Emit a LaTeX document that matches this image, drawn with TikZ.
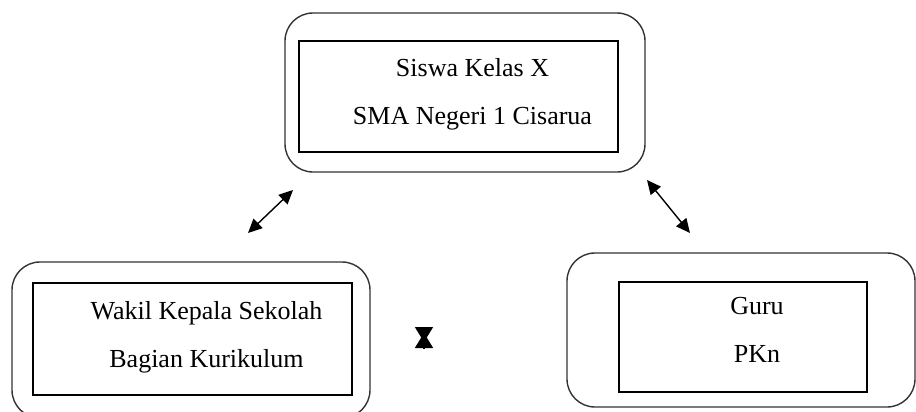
\documentclass[tikz,border=0pt]{standalone}
\usepackage{fontspec}
\setmainfont{Liberation Serif}
\usetikzlibrary{arrows.meta}
\begin{document}
\begin{tikzpicture}[x=0.5pt,y=-0.5pt,
  outerbox/.style={draw=black!80,line width=0.7pt,rounded corners=14pt,inner sep=0pt,outer sep=0pt},
  innerbox/.style={draw,line width=0.7pt,inner sep=0pt,outer sep=0pt},
  boxtext/.style={align=center,inner sep=0pt,font=\fontsize{13}{24}\selectfont},
  link/.style={{Triangle[length=7pt,width=6.5pt]}-{Triangle[length=7pt,width=6.5pt]},line width=0.7pt},
  half/.style={-{Triangle[length=7.5pt,width=9pt]},line width=0.8pt}]
\useasboundingbox (0,0) rectangle (916,412);
\node[outerbox,minimum width=180pt,minimum height=79.5pt] (siswa) at (465,92.5) {};
\node[innerbox,minimum width=159.5pt,minimum height=55.5pt] (siswa-in) at (458.5,96.5) {};
\node[boxtext] (siswa-txt) at (472.5,94.3) {Siswa Kelas X\\SMA Negeri 1 Cisarua};
\node[outerbox,minimum width=179pt,minimum height=78pt] (wakasek) at (191,340) {};
\node[innerbox,minimum width=159.5pt,minimum height=56pt] (wakasek-in) at (192.5,339) {};
\node[boxtext] (wakasek-txt) at (206.5,336.8) {Wakil Kepala Sekolah\\Bagian Kurikulum};
\node[outerbox,minimum width=174pt,minimum height=77pt] (guru) at (741,330) {};
\node[innerbox,minimum width=124pt,minimum height=55pt] (guru-in) at (743,337) {};
\node[boxtext] (guru-txt) at (757,330) {Guru\\PKn};
\coordinate (l1) at (293,190);
\coordinate (l2) at (248,233);
\coordinate (r1) at (647,180);
\coordinate (r2) at (690,233);
\draw[link] (l1) -- (l2);
\draw[link] (r1) -- (r2);
\coordinate (hgtop) at (424,327);
\coordinate (hgtip1) at (424,342);
\coordinate (hgbot) at (424,348);
\coordinate (hgtip2) at (424,333);
\draw[half] (hgtop) -- (hgtip1);
\draw[half] (hgbot) -- (hgtip2);
\end{tikzpicture}
\end{document}
